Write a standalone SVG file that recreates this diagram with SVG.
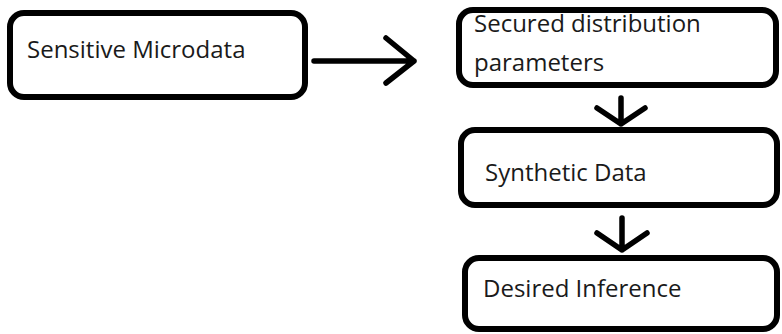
<svg xmlns="http://www.w3.org/2000/svg" width="782" height="334" viewBox="0 0 782 334">
<style>
.box{fill:#fff;stroke:#000;stroke-width:6}
.t{font-family:"Open Sans","Noto Sans",sans-serif;font-size:24px;fill:#1a1a1a}
.c{fill:none;stroke:#000;stroke-width:5.5;stroke-linecap:round;stroke-linejoin:round}
</style>
<rect width="782" height="334" fill="#fff"/>
<g id="n1"><rect class="box" x="10" y="13" width="295" height="84" rx="14"/><text class="t" x="27" y="58">Sensitive Microdata</text></g>
<g id="n2"><rect class="box" x="459" y="10" width="317" height="75" rx="14"/><text class="t" x="474" y="32">Secured distribution</text><text class="t" x="474" y="71">parameters</text></g>
<g id="n3"><rect class="box" x="461" y="130" width="316" height="75" rx="14"/><text class="t" x="485" y="181">Synthetic Data</text></g>
<g id="n4"><rect class="box" x="465" y="258" width="312" height="71" rx="14"/><text class="t" x="483" y="297">Desired Inference</text></g>
<g id="connectors">
<path class="c" d="M314 61 H414 M386 38 L414 61 L386 83"/>
<path class="c" d="M621 98 V124 M597 108 L621 124 L645 108"/>
<path class="c" d="M622 218 V250 M597 233 L622 250 L647 233"/>
</g>
</svg>
